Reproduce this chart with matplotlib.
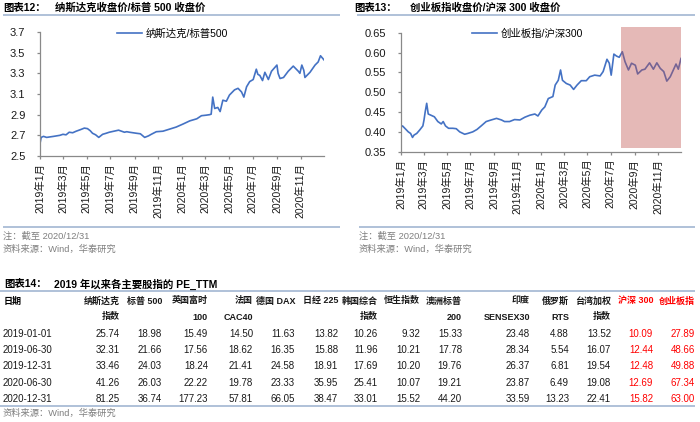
import matplotlib
matplotlib.use("Agg")
import matplotlib.pyplot as plt
from matplotlib.lines import Line2D
import pandas as pd

plt.rcParams['font.family'] = ['Liberation Sans', 'Noto Sans CJK SC']

# ---------------- data ----------------
ndx_spx_dates = [
    "2019-01-02", "2019-01-04", "2019-01-10", "2019-01-18", "2019-01-27", "2019-02-05", "2019-02-13", "2019-02-21",
    "2019-03-01", "2019-03-09", "2019-03-17", "2019-03-26", "2019-04-04", "2019-04-15", "2019-04-25", "2019-05-03",
    "2019-05-10", "2019-05-16", "2019-05-24", "2019-06-01", "2019-06-11", "2019-06-20", "2019-06-28", "2019-07-10",
    "2019-07-22", "2019-08-06", "2019-08-12", "2019-08-19", "2019-09-06", "2019-09-16", "2019-09-27", "2019-10-07",
    "2019-10-14", "2019-10-27", "2019-11-13", "2019-11-30", "2019-12-17", "2020-01-04", "2020-01-21", "2020-02-08",
    "2020-02-20", "2020-03-03", "2020-03-12", "2020-03-16", "2020-03-20", "2020-03-25", "2020-04-02", "2020-04-08",
    "2020-04-15", "2020-04-24", "2020-05-02", "2020-05-15", "2020-05-24", "2020-06-02", "2020-06-08", "2020-06-15",
    "2020-06-23", "2020-07-02", "2020-07-10", "2020-07-14", "2020-07-19", "2020-07-26", "2020-08-01", "2020-08-10",
    "2020-08-18", "2020-09-01", "2020-09-04", "2020-09-09", "2020-09-18", "2020-09-30", "2020-10-13", "2020-10-26",
    "2020-10-30", "2020-11-04", "2020-11-09", "2020-11-12", "2020-11-25", "2020-12-08", "2020-12-16", "2020-12-22",
    "2020-12-31",
]
ndx_spx_values = [
    2.64, 2.68, 2.69, 2.68, 2.685, 2.69, 2.695, 2.70,
    2.71, 2.705, 2.73, 2.725, 2.74, 2.755, 2.77, 2.765,
    2.745, 2.72, 2.705, 2.68, 2.71, 2.72, 2.73, 2.74,
    2.75, 2.73, 2.735, 2.73, 2.72, 2.715, 2.68, 2.695,
    2.71, 2.735, 2.74, 2.76, 2.78, 2.81, 2.84, 2.86,
    2.89, 2.895, 2.90, 2.905, 3.07, 2.96, 2.97, 2.93,
    3.04, 3.03, 3.09, 3.14, 3.155, 3.12, 3.07, 3.17,
    3.22, 3.24, 3.34, 3.29, 3.28, 3.23, 3.31, 3.24,
    3.32, 3.38, 3.30, 3.25, 3.26, 3.32, 3.37, 3.32,
    3.30, 3.38, 3.33, 3.26, 3.31, 3.38, 3.41, 3.47,
    3.43,
]

chinext_csi_dates = [
    "2019-01-02", "2019-01-05", "2019-01-11", "2019-01-20", "2019-01-26", "2019-01-31", "2019-02-04", "2019-02-11",
    "2019-02-19", "2019-02-27", "2019-03-02", "2019-03-05", "2019-03-09", "2019-03-13", "2019-03-20", "2019-03-29",
    "2019-04-07", "2019-04-16", "2019-04-21", "2019-04-27", "2019-05-05", "2019-05-16", "2019-05-25", "2019-06-03",
    "2019-06-16", "2019-06-24", "2019-07-07", "2019-07-18", "2019-07-29", "2019-08-11", "2019-08-24", "2019-09-07",
    "2019-09-20", "2019-09-28", "2019-10-11", "2019-10-24", "2019-11-07", "2019-11-20", "2019-12-03", "2019-12-16",
    "2019-12-24", "2020-01-03", "2020-01-11", "2020-01-20", "2020-02-01", "2020-02-07", "2020-02-15", "2020-02-21",
    "2020-02-26", "2020-03-07", "2020-03-17", "2020-03-26", "2020-04-04", "2020-04-15", "2020-04-28", "2020-05-07",
    "2020-05-20", "2020-06-03", "2020-06-11", "2020-06-21", "2020-06-27", "2020-07-02", "2020-07-09", "2020-07-16",
    "2020-07-23", "2020-07-31", "2020-08-07", "2020-08-16", "2020-08-24", "2020-09-03", "2020-09-09", "2020-09-20",
    "2020-09-28", "2020-10-10", "2020-10-20", "2020-10-29", "2020-11-07", "2020-11-16", "2020-11-24", "2020-12-03",
    "2020-12-11", "2020-12-18", "2020-12-24", "2020-12-31",
]
chinext_csi_values = [
    0.413, 0.415, 0.409, 0.400, 0.396, 0.386, 0.392, 0.396,
    0.405, 0.415, 0.430, 0.450, 0.472, 0.445, 0.442, 0.438,
    0.426, 0.420, 0.426, 0.415, 0.409, 0.409, 0.408, 0.400,
    0.394, 0.396, 0.400, 0.406, 0.415, 0.426, 0.430, 0.434,
    0.430, 0.426, 0.426, 0.431, 0.430, 0.437, 0.442, 0.445,
    0.440, 0.455, 0.463, 0.484, 0.489, 0.518, 0.530, 0.556,
    0.530, 0.522, 0.518, 0.507, 0.518, 0.529, 0.529, 0.539,
    0.543, 0.541, 0.552, 0.583, 0.573, 0.543, 0.596, 0.591,
    0.588, 0.602, 0.577, 0.556, 0.573, 0.568, 0.546, 0.556,
    0.558, 0.574, 0.558, 0.574, 0.560, 0.552, 0.528, 0.539,
    0.556, 0.571, 0.558, 0.585,
]
shade_start = "2020-07-27"
shade_end = "2020-12-31"

tick_dates = ["2019-01-01", "2019-03-01", "2019-05-01", "2019-07-01", "2019-09-01", "2019-11-01",
              "2020-01-01", "2020-03-01", "2020-05-01", "2020-07-01", "2020-09-01", "2020-11-01"]
tick_labels = ["2019年1月", "2019年3月", "2019年5月", "2019年7月", "2019年9月", "2019年11月",
               "2020年1月", "2020年3月", "2020年5月", "2020年7月", "2020年9月", "2020年11月"]
left_yticks = [2.5, 2.7, 2.9, 3.1, 3.3, 3.5, 3.7]
right_yticks = [0.35, 0.40, 0.45, 0.50, 0.55, 0.60, 0.65]

table_dates = ["2019-01-01", "2019-06-30", "2019-12-31", "2020-06-30", "2020-12-31"]
header_line1 = ["纳斯达克", "标普 500", "英国富时", "法国", "德国 DAX", "日经 225", "韩国综合",
                "恒生指数", "澳洲标普", "印度", "俄罗斯", "台湾加权", "沪深 300", "创业板指"]
header_line2 = ["指数", "", "100", "CAC40", "", "", "指数", "", "200", "SENSEX30", "RTS", "指数", "", ""]
pe_nasdaq = [25.74, 32.31, 33.46, 41.26, 81.25]
pe_sp500 = [18.98, 21.66, 24.03, 26.03, 36.74]
pe_ftse100 = [15.49, 17.56, 18.24, 22.22, 177.23]
pe_cac40 = [14.50, 18.62, 21.41, 19.78, 57.81]
pe_dax = [11.63, 16.35, 24.58, 23.33, 66.05]
pe_nikkei225 = [13.82, 15.88, 18.91, 35.95, 38.47]
pe_kospi = [10.26, 11.96, 17.69, 25.41, 33.01]
pe_hsi = [9.32, 10.21, 10.20, 10.07, 15.52]
pe_asx200 = [15.33, 17.78, 19.76, 19.21, 44.20]
pe_sensex30 = [23.48, 28.34, 26.37, 23.87, 33.59]
pe_rts = [4.88, 5.54, 6.81, 6.49, 13.23]
pe_taiex = [13.52, 16.07, 19.54, 19.08, 22.41]
pe_csi300 = [10.09, 12.44, 12.48, 12.69, 15.82]
pe_chinext = [27.89, 48.66, 49.88, 67.34, 63.00]

# ---------------- layout helpers ----------------
W, H = 700, 422
fig = plt.figure(figsize=(7, 4.22), dpi=100)
fig.patch.set_facecolor('white')

def fx(px):
    return px / W

def fy(py):
    return 1 - py / H

def axes_px(x0, y0, x1, y1):
    return fig.add_axes([fx(x0), fy(y1), (x1 - x0) / W, (y1 - y0) / H])

def hline(x0, x1, y, color='#A9BCD6', lw=1.3):
    fig.add_artist(Line2D([fx(x0), fx(x1)], [fy(y), fy(y)], transform=fig.transFigure,
                          color=color, lw=lw, solid_capstyle='butt'))

def ftext(px, py, s, **kw):
    kw.setdefault('va', 'center')
    fig.text(fx(px), fy(py), s, **kw)

LINE_C = '#4472C4'
AX_C = '#898989'
NOTE_C = '#7F7F7F'

def style_chart(ax, yticks, fmt, ylim):
    for s in ['top', 'right']:
        ax.spines[s].set_visible(False)
    for s in ['left', 'bottom']:
        ax.spines[s].set_color(AX_C)
        ax.spines[s].set_linewidth(0.9)
    ax.set_xlim(pd.Timestamp("2019-01-01"), pd.Timestamp("2020-12-31"))
    ax.set_ylim(*ylim)
    ax.set_xticks(pd.to_datetime(tick_dates))
    ax.set_xticklabels(tick_labels, rotation=90, fontsize=7.5, color='#1a1a1a')
    ax.set_yticks(yticks)
    ax.set_yticklabels([fmt % v for v in yticks], fontsize=8, color='#1a1a1a')
    ax.tick_params(axis='both', direction='out', length=2.5, width=0.9, color=AX_C)
    ax.tick_params(axis='y', pad=8)
    ax.tick_params(axis='x', pad=2.5)
    ax.set_facecolor('none')

# ---------------- chart 12 ----------------
ax1 = axes_px(40, 32, 324, 156)
l1, = ax1.plot(pd.to_datetime(ndx_spx_dates), ndx_spx_values, color=LINE_C, lw=1.2)
style_chart(ax1, left_yticks, '%.1f', (2.5, 3.7))
ax1.legend([l1], ["纳斯达克/标普500"], loc='center left', bbox_to_anchor=(0.271, 0.984),
           frameon=False, fontsize=7.5, handlelength=2.4, handletextpad=0.35,
           borderpad=0, borderaxespad=0)

ftext(3, 8, "图表12：", fontsize=7.5, fontweight='bold')
ftext(55, 8, "纳斯达克收盘价/标普 500 收盘价", fontsize=7.5, fontweight='bold')
hline(3, 340, 15)
hline(3, 340, 227)
ftext(3, 236, "注：截至 2020/12/31", fontsize=6.7, color=NOTE_C)
ftext(3, 249, "资料来源：Wind，华泰研究", fontsize=6.7, color=NOTE_C)

# ---------------- chart 13 ----------------
ax2 = axes_px(401, 32.7, 681, 151.7)
l2, = ax2.plot(pd.to_datetime(chinext_csi_dates), chinext_csi_values, color=LINE_C, lw=1.2, zorder=2)
ax2.axvspan(pd.Timestamp(shade_start), pd.Timestamp(shade_end), ymin=0.027, ymax=1.05,
            color='#C0504D', alpha=0.4, lw=0, clip_on=False, zorder=3)
style_chart(ax2, right_yticks, '%.2f', (0.35, 0.65))
ax2.legend([l2], ["创业板指/沪深300"], loc='center left', bbox_to_anchor=(0.254, 0.989),
           frameon=False, fontsize=7.5, handlelength=2.4, handletextpad=0.35,
           borderpad=0, borderaxespad=0)

ftext(354, 8, "图表13：", fontsize=7.5, fontweight='bold')
ftext(410, 8, "创业板指收盘价/沪深 300 收盘价", fontsize=7.5, fontweight='bold')
hline(357, 695, 15)
hline(359, 695, 227)
ftext(359, 236, "注：截至 2020/12/31", fontsize=6.7, color=NOTE_C)
ftext(359, 249, "资料来源：Wind，华泰研究", fontsize=6.7, color=NOTE_C)

# ---------------- table 14 ----------------
ftext(4, 284, "图表14：", fontsize=7.5, fontweight='bold')
ftext(54, 284, "2019 年以来各主要股指的 PE_TTM", fontsize=7.5, fontweight='bold')
hline(0, 695, 291)
hline(0, 695, 406)

columns = [pe_nasdaq, pe_sp500, pe_ftse100, pe_cac40, pe_dax, pe_nikkei225, pe_kospi,
           pe_hsi, pe_asx200, pe_sensex30, pe_rts, pe_taiex, pe_csi300, pe_chinext]
col_right = [120, 162, 208, 253, 295, 338, 378, 420, 462, 530, 569, 611, 653, 695]
red_cols = {12, 13}
hdr_y = [301, 317]
row_y = [334, 350, 366, 383, 399]
HDR_FS = 6.5

ftext(4, hdr_y[0], "日期", fontsize=HDR_FS, fontweight='bold', ha='left')
for d, y in zip(table_dates, row_y):
    ftext(3, y, d, fontsize=7, ha='left', color='#1a1a1a')

for i, vals in enumerate(columns):
    c = '#FF0000' if i in red_cols else '#1a1a1a'
    ftext(col_right[i], hdr_y[0], header_line1[i], fontsize=HDR_FS, fontweight='bold', ha='right', color=c)
    if header_line2[i]:
        ftext(col_right[i], hdr_y[1], header_line2[i], fontsize=HDR_FS, fontweight='bold', ha='right', color=c)
    for v, y in zip(vals, row_y):
        ftext(col_right[i], y, f"{v:.2f}", fontsize=7, ha='right', color=c)

ftext(3, 413, "资料来源：Wind，华泰研究", fontsize=6.7, color=NOTE_C)

fig.savefig("out.png", dpi=100, facecolor='white')
